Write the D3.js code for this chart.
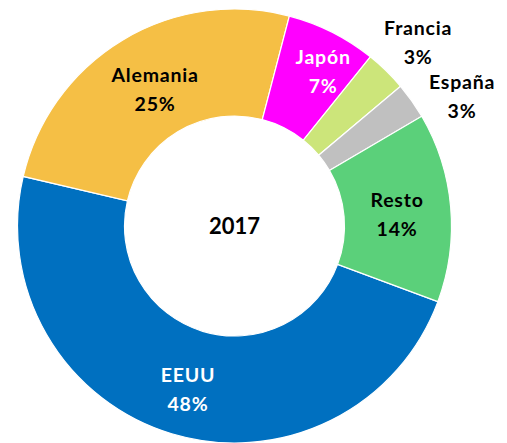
<!DOCTYPE html>
<html>
<head>
<meta charset="utf-8">
<script src="https://cdn.jsdelivr.net/npm/d3@7"></script>
<style>
  body { margin: 0; background: #fff; }
  text { font-family: Lato, "Open Sans", sans-serif; font-weight: bold; }
</style>
</head>
<body>
<div id="canvas"></div>
<script>
// data (shares; labels show rounded values)
var countries = ['EEUU', 'Alemania', 'Japón', 'Francia', 'España', 'Resto'];
var shares = [48.0, 25.4, 6.7, 3.1, 2.7, 14.1];
var year = '2017';

var colors = ['#0070C0', '#F5BF45', '#FF00FF', '#CCE57A', '#C0C0C0', '#5BD07A'];
var textColors = ['#fff', '#000', '#fff', '#000', '#000', '#000'];
// label radius and small angle nudge (deg) per slice
var labelR = [170, 158, 179, 260, 262, 163];
var labelShift = [-0.9, 0.9, 3, 0.6, 5.5, 0.9];

var W = 507, H = 443;
var cx = 234.5, cy = 226;
var rOut = 217, rIn = 110;

var svg = d3.select('#canvas')
    .append('svg')
    .attr('width', W)
    .attr('height', H);

var plot = svg.append('g')
    .attr('transform', 'translate(' + cx + ',' + cy + ')');

var start = 110.4 * Math.PI / 180;
var pie = d3.pie()
    .sort(null)
    .value(function(d){ return d; })
    .startAngle(start)
    .endAngle(start + 2 * Math.PI);

var arcs = pie(shares);

var arc = d3.arc()
    .innerRadius(rIn)
    .outerRadius(rOut);

plot.selectAll('.slice')
    .data(arcs)
    .enter()
    .append('path')
    .attr('class', 'slice')
    .attr('d', arc)
    .style('fill', function(d, i){ return colors[i]; })
    .style('stroke', '#fff')
    .style('stroke-width', 1.2);

var labels = plot.selectAll('.label')
    .data(arcs)
    .enter()
    .append('g')
    .attr('class', 'label')
    .attr('transform', function(d, i){
        var a = (d.startAngle + d.endAngle) / 2 + labelShift[i] * Math.PI / 180;
        var r = labelR[i];
        return 'translate(' + (r * Math.sin(a)) + ',' + (-r * Math.cos(a)) + ')';
    });

labels.append('text')
    .attr('text-anchor', 'middle')
    .attr('y', -7)
    .style('font-size', '19.5px')
    .style('letter-spacing', '0.8px')
    .style('fill', function(d, i){ return textColors[i]; })
    .text(function(d, i){ return countries[i]; });

labels.append('text')
    .attr('text-anchor', 'middle')
    .attr('y', 22)
    .style('font-size', '19.5px')
    .style('letter-spacing', '0.8px')
    .style('fill', function(d, i){ return textColors[i]; })
    .text(function(d){ return Math.round(d.data) + '%'; });

plot.append('text')
    .attr('text-anchor', 'middle')
    .attr('y', 8)
    .style('font-size', '22px')
    .text(year);
</script>
</body>
</html>
